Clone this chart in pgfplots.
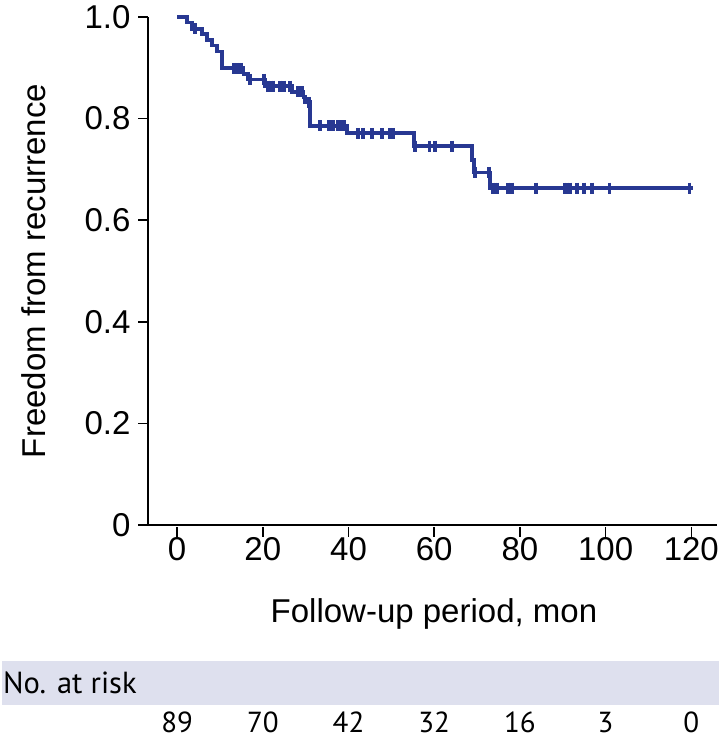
\documentclass[border=0pt]{standalone}
\usepackage{fontspec}
\setmainfont{Liberation Sans}
\newfontfamily\riskfont{PT Sans}
\usepackage{pgfplots}
\pgfplotsset{compat=1.18}
\definecolor{kmblue}{RGB}{40,56,146}
\definecolor{band}{RGB}{222,224,238}
\begin{document}
\begin{tikzpicture}
\path[use as bounding box] (0pt,0pt) rectangle (721pt,-740pt);
\fill[band] (2pt,-661pt) rectangle (719pt,-705pt);
\node[anchor=base west, inner sep=0pt, font=\riskfont\fontsize{30.5}{34}\selectfont] at (3pt,-693pt) {No. at risk};
\begin{axis}[
  name=ax, at={(148pt,-525pt)}, anchor=south west,
  scale only axis, width=569pt, height=508pt,
  xmin=-6.8, xmax=126, ymin=0, ymax=1,
  axis x line*=bottom, axis y line*=left,
  axis line style={line width=1.5pt, black, -},
  xtick={0,20,40,60,80,100,120},
  ytick={0,0.2,0.4,0.6,0.8,1},
  yticklabels={0,0.2,0.4,0.6,0.8,1.0},
  tick align=outside, major tick length=10pt,
  tick style={line width=1.5pt, black},
  x tick style={yshift=-1.5pt},
  every tick label/.append style={font=\fontsize{33}{38}\selectfont},
  x tick label style={yshift=1pt},
  y tick label style={xshift=-4pt},
  /pgf/number format/assume math mode=true,
  xlabel={Follow-up period, mon},
  ylabel={Freedom from recurrence},
  xlabel style={font=\fontsize{33}{38}\selectfont, anchor=base, at={(axis description cs:0.5026,-0.191)}},
  ylabel style={font=\fontsize{33}{38}\selectfont, anchor=center, at={(axis description cs:-0.200,0.5)}},
  clip=false
]
\addplot[const plot, kmblue, line width=3.8pt, line join=miter] coordinates {
(0,1.000) (2.3,0.989) (3.4,0.977) (5.8,0.966) (6.9,0.955) (8.1,0.944) (9.3,0.932)
(10.4,0.899) (15.5,0.888) (16.6,0.877) (20.5,0.864) (26.8,0.853) (29.5,0.843)
(29.9,0.832) (31.0,0.786) (39.6,0.771) (55.2,0.746) (68.8,0.719) (69.2,0.694)
(73.1,0.663) (120.5,0.663)
};
\addplot[only marks, mark=|, mark size=5.5pt, kmblue, mark options={line width=3.8pt}] coordinates {
(4.2,0.977) (13.3,0.899) (13.9,0.899) (14.4,0.899) (15.0,0.899) (17.0,0.877) (20.2,0.877)
(21.3,0.864) (22.0,0.864) (22.5,0.864) (24.0,0.864) (25.0,0.864) (26.4,0.864)
(28.3,0.853) (29.1,0.853) (30.7,0.832)
(33.4,0.786) (35.5,0.786) (36.3,0.786) (37.6,0.786) (38.5,0.786) (38.9,0.786)
(42.3,0.771) (43.4,0.771) (45.5,0.771) (47.8,0.771) (49.7,0.771) (50.4,0.771)
(55.6,0.746) (58.9,0.746) (60.2,0.746) (64.1,0.746)
(69.6,0.694) (72.7,0.694)
(73.8,0.663) (74.3,0.663) (74.7,0.663) (77.3,0.663) (78.1,0.663) (83.8,0.663)
(90.4,0.663) (91.0,0.663) (91.6,0.663) (93.3,0.663) (95.0,0.663) (96.8,0.663)
(100.9,0.663) (119.6,0.663)
};
\node[anchor=base, inner sep=0pt, font=\riskfont\fontsize{29}{32}\selectfont] at ([yshift=-207pt]axis cs:0,0) {89};
\node[anchor=base, inner sep=0pt, font=\riskfont\fontsize{29}{32}\selectfont] at ([yshift=-207pt]axis cs:20,0) {70};
\node[anchor=base, inner sep=0pt, font=\riskfont\fontsize{29}{32}\selectfont] at ([yshift=-207pt]axis cs:40,0) {42};
\node[anchor=base, inner sep=0pt, font=\riskfont\fontsize{29}{32}\selectfont] at ([yshift=-207pt]axis cs:60,0) {32};
\node[anchor=base, inner sep=0pt, font=\riskfont\fontsize{29}{32}\selectfont] at ([yshift=-207pt]axis cs:80,0) {16};
\node[anchor=base, inner sep=0pt, font=\riskfont\fontsize{29}{32}\selectfont] at ([yshift=-207pt]axis cs:100,0) {3};
\node[anchor=base, inner sep=0pt, font=\riskfont\fontsize{29}{32}\selectfont] at ([yshift=-207pt]axis cs:120,0) {0};
\end{axis}
\end{tikzpicture}
\end{document}
